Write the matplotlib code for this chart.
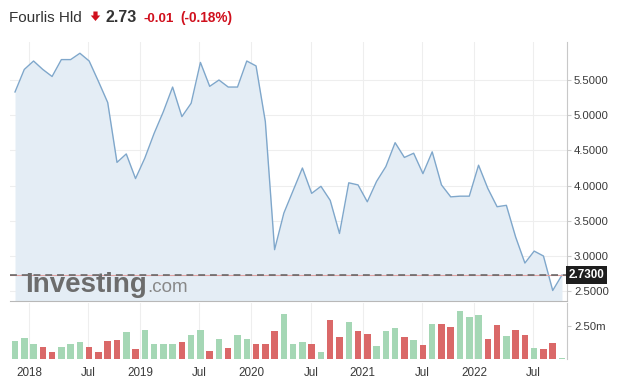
import numpy as np
import matplotlib.pyplot as plt
from matplotlib.patches import FancyArrow
from matplotlib.transforms import IdentityTransform
from matplotlib.ticker import FixedLocator, FuncFormatter

# Monthly data, Nov 2017 .. Oct 2022
prices = [5.33, 5.65, 5.77, 5.65, 5.55, 5.79, 5.79, 5.88, 5.77, 5.48,
          5.18, 4.33, 4.45, 4.10, 4.39, 4.74, 5.05, 5.40, 4.98, 5.17,
          5.75, 5.41, 5.50, 5.40, 5.40, 5.77, 5.70, 4.91, 3.09, 3.61,
          3.93, 4.25, 3.89, 3.99, 3.79, 3.32, 4.04, 4.01, 3.77, 4.06,
          4.27, 4.61, 4.40, 4.46, 4.17, 4.48, 4.01, 3.84, 3.85, 3.85,
          4.29, 3.96, 3.70, 3.72, 3.27, 2.90, 3.07, 3.00, 2.51, 2.73]

# volume in millions
volumes = [1.38, 1.59, 1.17, 0.90, 0.56, 0.90, 1.17, 1.28, 0.90, 0.56,
           1.38, 1.46, 2.05, 0.77, 2.20, 1.17, 1.17, 1.13, 1.28, 1.79,
           2.20, 0.64, 1.51, 0.82, 1.79, 1.51, 1.13, 1.13, 2.10, 3.43,
           1.17, 1.25, 1.13, 0.56, 2.94, 1.66, 2.81, 2.15, 1.89, 0.97,
           2.10, 2.35, 1.63, 1.46, 1.02, 2.61, 2.61, 2.45, 3.63, 3.14,
           3.30, 1.53, 2.56, 1.71, 2.17, 1.79, 0.84, 0.72, 1.23, 0.08]

# 1 = up month (green), 0 = down month (red)
up = [1, 1, 1, 0, 0, 1, 1, 1, 0, 0,
      0, 0, 1, 0, 1, 1, 1, 1, 0, 1,
      1, 0, 1, 0, 1, 1, 0, 0, 0, 1,
      1, 1, 0, 1, 0, 0, 1, 0, 0, 1,
      1, 1, 0, 1, 0, 1, 0, 0, 1, 1,
      1, 0, 0, 1, 0, 0, 1, 0, 0, 1]

tick_idx = [2, 8, 14, 20, 26, 32, 38, 44, 50, 56]
tick_labels = ['2018', 'Jul', '2019', 'Jul', '2020', 'Jul', '2021', 'Jul', '2022', 'Jul']
price_ticks = [2.5, 3.0, 3.5, 4.0, 4.5, 5.0, 5.5]
last_price = 2.73

plt.rcParams['font.family'] = ['Liberation Sans', 'DejaVu Sans']

W, H = 631, 392
fig = plt.figure(figsize=(W / 100, H / 100), dpi=100)

x = np.arange(len(prices))
# year ticks sit a bit before the January bar
tick_pos = [i - 0.5 if lab != 'Jul' else i - 0.1 for i, lab in zip(tick_idx, tick_labels)]

left, right = 10 / W, 567 / W
ax = fig.add_axes([left, 1 - 301 / H, right - left, (301 - 42) / H])
axv = fig.add_axes([left, 1 - 359 / H, right - left, (359 - 303) / H])

ymin, ymax = 2.361, 6.04
xlim = (-0.54, len(prices) - 1 + 0.54)

# price pane
ax.fill_between(x, prices, ymin, color='#e4edf5', lw=0)
ax.plot(x, prices, color='#7fa7cb', lw=1.0)
ax.axhline(last_price, color='#e2a3a3', lw=0.8)
ax.axhline(last_price, color='#5e5e5e', lw=1.1, dashes=(4.5, 3.2))
ax.set_xlim(*xlim)
ax.set_ylim(ymin, ymax)
ax.yaxis.tick_right()
ax.set_yticks(price_ticks)
ax.set_yticklabels([f'{v:.4f}' for v in price_ticks])
ax.xaxis.set_major_locator(FixedLocator(tick_pos))
ax.tick_params(axis='x', length=0, labelbottom=False)
ax.tick_params(axis='y', length=3, color='#cccccc', labelsize=8.2,
               labelcolor='#3a3a3a', pad=2)
ax.grid(True, color='#eeeeee', lw=0.8)
ax.set_axisbelow(True)
for s in ['top', 'left']:
    ax.spines[s].set_visible(False)
ax.spines['right'].set_color('#c8c8c8')
ax.spines['bottom'].set_color('#b8b8b8')

# last price label
ax.text(1.003, last_price, '2.7300', transform=ax.get_yaxis_transform(),
        ha='left', va='center', fontsize=8.4, fontweight='bold', color='white',
        bbox=dict(boxstyle='square,pad=0.22', fc='#1e1e1e', ec='none'))

# watermark
ax.text(15 / 557, 0.034, 'Investing', transform=ax.transAxes, fontsize=20,
        fontweight='bold', color='#6c6c6c', ha='left', va='baseline')
ax.text(137 / 557, 0.034, '.com', transform=ax.transAxes, fontsize=13.5,
        color='#888888', ha='left', va='baseline')

# volume pane
colors = ['#a5d7b5' if u else '#da6868' for u in up]
axv.bar(x, volumes, width=0.7, color=colors, lw=0)
axv.set_xlim(*xlim)
axv.set_ylim(0, 4.23)
axv.yaxis.tick_right()
axv.set_yticks([2.5])
axv.yaxis.set_major_formatter(FuncFormatter(lambda v, p: f'{v:.2f}m'))
axv.set_xticks(tick_pos)
axv.set_xticklabels(tick_labels)
axv.tick_params(axis='x', length=0, labelsize=8.4, labelcolor='#3a3a3a', pad=6)
axv.tick_params(axis='y', length=3, color='#cccccc', labelsize=8.2,
                labelcolor='#3a3a3a', pad=2)
axv.grid(True, axis='x', color='#eeeeee', lw=0.8)
axv.set_axisbelow(True)
for s in ['top', 'left', 'bottom']:
    axv.spines[s].set_visible(False)
axv.spines['right'].set_color('#c8c8c8')

# header
yh = 1 - 22 / H
fig.text(9 / W, yh, 'Fourlis Hld', fontsize=11, color='#333333', va='baseline')
arrow = FancyArrow(95.5, H - 11.5, 0, -9.5, width=4.2, head_width=9.5,
                   head_length=5.5, length_includes_head=True,
                   color='#d0101d', lw=0, transform=IdentityTransform())
fig.add_artist(arrow)
fig.text(105 / W, yh, '2.73', fontsize=11.5, fontweight='bold', color='#333333',
         va='baseline')
fig.text(143 / W, yh, '-0.01', fontsize=9.6, fontweight='bold', color='#d0101d',
         va='baseline')
fig.text(180 / W, yh, '(-0.18%)', fontsize=9.8, fontweight='bold', color='#d0101d',
         va='baseline')

fig.savefig('out.png', dpi=100, facecolor='white')
